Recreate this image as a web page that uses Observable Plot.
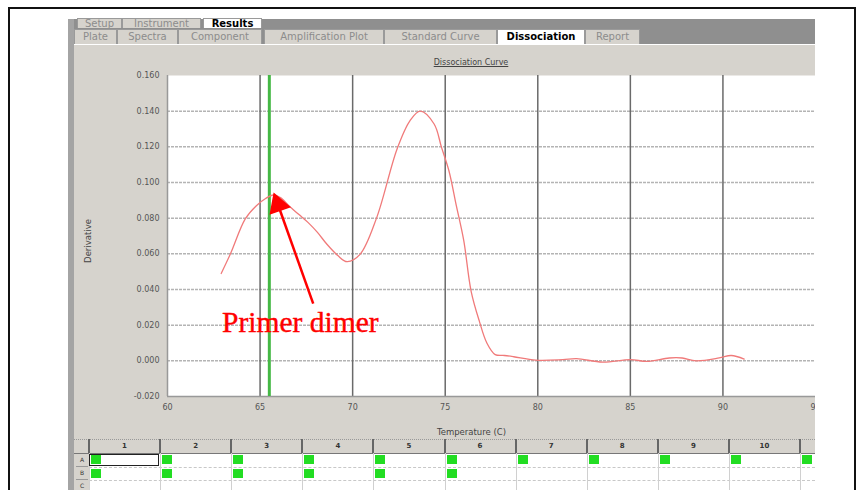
<!DOCTYPE html>
<html>
<head>
<meta charset="utf-8">
<script src="https://cdn.jsdelivr.net/npm/d3@7"></script>
<script src="https://cdn.jsdelivr.net/npm/@observablehq/plot@0.6"></script>
<style>
  html, body { margin: 0; padding: 0; background: #fff; width: 861px; height: 490px; overflow: hidden; }
  body { position: relative; font-family: "DejaVu Sans", sans-serif; }
  .abs { position: absolute; }
  .tab { position: absolute; box-sizing: border-box; font-size: 10px; color: #8c8c8c; background: #d6d3cd;
         border: 1px solid #9a9a9a; border-bottom: none; text-align: center; white-space: nowrap; overflow: hidden; }
  .tab.active { background: #fff; color: #000; font-weight: bold; }
  .colhead { position: absolute; top: 439px; height: 14px; font-size: 7px; font-weight: bold; color: #333;
             text-align: center; line-height: 14px; }
</style>
</head>
<body>
<div id="frame" class="abs" style="left:8px;top:7px;width:844px;height:500px;border:2px solid #111;"></div>
<div id="win" class="abs" style="left:68px;top:19px;width:747px;height:480px;background:#d6d3cd;overflow:hidden;"></div>
<div id="tabs"></div>
<div id="chart" class="abs" style="left:68px;top:45px;width:747px;height:395px;overflow:hidden;"></div>
<div id="table" class="abs" style="left:0;top:0;width:815px;height:490px;overflow:hidden;"></div>
<script>
// ---- data ----
const temps = [62.9, 63.4, 64.2, 64.8, 65.3, 65.7, 66.1, 66.6, 67.1, 67.6, 68.1, 68.6, 69.2, 69.7, 70.4, 71.3, 72.4, 73.1, 73.65, 74.4, 74.8, 75.2, 75.6, 76.0, 76.4, 76.85, 77.25, 77.7, 78.2, 78.7, 79.9, 81.35, 82.1, 83.5, 85.0, 85.9, 87.1, 87.8, 88.55, 89.8, 90.45, 91.15];
const derivs = [0.049, 0.060, 0.0796, 0.087, 0.091, 0.093, 0.0915, 0.0865, 0.082, 0.0775, 0.072, 0.0655, 0.059, 0.0556, 0.0597, 0.0803, 0.1188, 0.1347, 0.140, 0.1328, 0.1197, 0.1066, 0.087, 0.0675, 0.039, 0.022, 0.010, 0.0035, 0.003, 0.0023, 0.0004, 0.0007, 0.0012, -0.0007, 0.0007, -0.0003, 0.0016, 0.0016, 0.0, 0.0016, 0.003, 0.001];
const xTicks = [60, 65, 70, 75, 80, 85, 90, 95];
const yTicks = [-0.02, 0.0, 0.02, 0.04, 0.06, 0.08, 0.10, 0.12, 0.14, 0.16];
const xGrid = [65, 70, 75, 80, 85, 90];
const markerTemp = [65.5];
const annotationText = ["Primer dimer"];
const annotationX = [62.95];
const annotationY = [0.0213];
const arrowTail = [67.87, 0.0321];
const arrowHead = [65.97, 0.0875];
const arrowAngle = [-19.7];
const chartTitle = "Dissociation Curve";
const xLabel = "Temperature (C)";
const yLabel = "Derivative";
const topTabs = ["Setup", "Instrument", "Results"];
const subTabs = ["Plate", "Spectra", "Component", "Amplification Plot", "Standard Curve", "Dissociation", "Report"];
const columnLabels = ["1", "2", "3", "4", "5", "6", "7", "8", "9", "10"];
const columnCount = 11;
const rowLabels = ["A", "B", "C"];
const wellsFilledRowA = 11;
const wellsFilledRowB = 6;

// ---- window chrome (tabs) ----
const tabsEl = document.getElementById("tabs");
function addDiv(parent, cls, style, text) {
  const d = document.createElement("div");
  if (cls) d.className = cls;
  d.setAttribute("style", style);
  if (text != null) d.textContent = text;
  parent.appendChild(d);
  return d;
}
addDiv(tabsEl, "abs", "left:68px;top:19px;width:747px;height:25px;background:#8f8f8f;");
addDiv(tabsEl, "abs", "left:68px;top:19px;width:6px;height:471px;background:#a4a4a4;");
const topTabPos = [[77, 45], [122, 79], [203, 59]];
topTabs.forEach((t, i) => {
  addDiv(tabsEl, "tab" + (t === "Results" ? " active" : ""),
    `left:${topTabPos[i][0]}px;top:18px;width:${topTabPos[i][1]}px;height:10px;line-height:9px;font-size:10px;`, t);
});
const subTabPos = [[74, 43], [117, 61], [178, 84], [264, 120], [384, 113], [497, 88], [585, 55]];
subTabs.forEach((t, i) => {
  addDiv(tabsEl, "tab" + (t === "Dissociation" ? " active" : ""),
    `left:${subTabPos[i][0]}px;top:29px;width:${subTabPos[i][1]}px;height:15px;line-height:14px;`, t);
});
addDiv(tabsEl, "abs", "left:74px;top:44px;width:741px;height:1px;background:#fff;");

// title
addDiv(tabsEl, "abs", `left:371px;top:58px;width:200px;text-align:center;font-size:8px;color:#444;text-decoration:underline;`, chartTitle);

// ---- chart ----
const data = temps.map((t, i) => ({t, d: derivs[i]}));
const chart = Plot.plot({
  width: 747,
  height: 395,
  marginLeft: 99,
  marginRight: 0,
  marginTop: 30,
  marginBottom: 44,
  style: {background: "transparent", fontFamily: "DejaVu Sans, sans-serif", fontSize: "8px", color: "#555", overflow: "visible"},
  x: {domain: [60, 95], ticks: xTicks, tickFormat: d => String(d), tickSize: 0, tickPadding: 8, label: null},
  y: {domain: [-0.02, 0.16], ticks: yTicks, tickFormat: d => d.toFixed(3), tickSize: 0, tickPadding: 8, label: null},
  marks: [
    Plot.frame({fill: "white", stroke: "none"}),
    Plot.ruleY(yTicks.filter(v => v > -0.02 && v < 0.16), {stroke: "#b4b4b4", strokeWidth: 1.5, strokeDasharray: "3,1"}),
    Plot.ruleX(xGrid, {stroke: "#6a6a6a", strokeWidth: 1.5}),
    Plot.ruleX([60], {stroke: "#999", strokeWidth: 1.5}),
    Plot.ruleY([-0.02], {stroke: "#999", strokeWidth: 1.5}),
    Plot.ruleX(markerTemp, {stroke: "#45b845", strokeWidth: 3}),
    Plot.line(data, {x: "t", y: "d", stroke: "#f07a7a", strokeWidth: 1.3, curve: "catmull-rom"}),
    Plot.link([{x1: arrowTail[0], y1: arrowTail[1], x2: arrowHead[0], y2: arrowHead[1]}],
      {x1: "x1", y1: "y1", x2: "x2", y2: "y2", stroke: "#ff0000", strokeWidth: 2.5}),
    Plot.dot([{x: arrowHead[0], y: arrowHead[1], a: arrowAngle[0]}],
      {x: "x", y: "y", symbol: "triangle", r: 7.5, fill: "#ff0000", stroke: "#ff0000", rotate: "a"}),
    Plot.text(annotationText, {x: annotationX, y: annotationY, textAnchor: "start", fontFamily: "Liberation Serif, serif",
      fontSize: 29.5, fill: "#ff0000", stroke: "#ff0000", strokeWidth: 0.4}),
    Plot.text([xLabel], {frameAnchor: "bottom", dy: 38, dx: -20, fill: "#444", fontSize: 8.5}),
    Plot.text([yLabel], {frameAnchor: "left", textAnchor: "middle", dx: -79, dy: 5, rotate: -90, fill: "#444", fontSize: 8.5})
  ]
});
document.getElementById("chart").appendChild(chart);

// ---- well table ----
const tableEl = document.getElementById("table");
const colW = 71.1, col0 = 89;
addDiv(tableEl, "abs", "left:74px;top:439px;width:741px;height:14px;background:#d6d3cd;border-top:1px dotted #999;box-sizing:border-box;");
addDiv(tableEl, "abs", "left:89px;top:453px;width:726px;height:40px;background:#fff;");
addDiv(tableEl, "abs", "left:74px;top:453px;width:741px;height:1px;background:#777;");
[467, 480].forEach(y => addDiv(tableEl, "abs", `left:89px;top:${y}px;width:726px;height:0;border-top:1px dashed #c8c8c8;`));
for (let i = 0; i < columnCount; i++) {
  const x = col0 + i * colW;
  if (columnLabels[i]) addDiv(tableEl, "colhead", `left:${x}px;width:${colW}px;`, columnLabels[i]);
  addDiv(tableEl, "abs", `left:${x - 1}px;top:439px;width:2px;height:14px;background:#666;`);
  addDiv(tableEl, "abs", `left:${x}px;top:453px;width:1px;height:40px;background:#d0d0d0;`);
}
rowLabels.forEach((r, j) => {
  addDiv(tableEl, "abs", `left:76px;top:${454 + j * 13}px;width:12px;height:12px;font-size:6px;line-height:12px;text-align:center;color:#333;background:#d6d3cd;border-bottom:1px solid #999;`, r);
});
for (let i = 0; i < wellsFilledRowA; i++) {
  addDiv(tableEl, "abs", `left:${col0 + i * colW + 2}px;top:455px;width:10px;height:9px;background:#22dd22;`);
}
for (let i = 0; i < wellsFilledRowB; i++) {
  addDiv(tableEl, "abs", `left:${col0 + i * colW + 2}px;top:469px;width:10px;height:9px;background:#22dd22;`);
}
addDiv(tableEl, "abs", `left:${col0}px;top:454px;width:70px;height:12px;box-sizing:border-box;border:1.5px solid #222;`);
</script>
</body>
</html>
